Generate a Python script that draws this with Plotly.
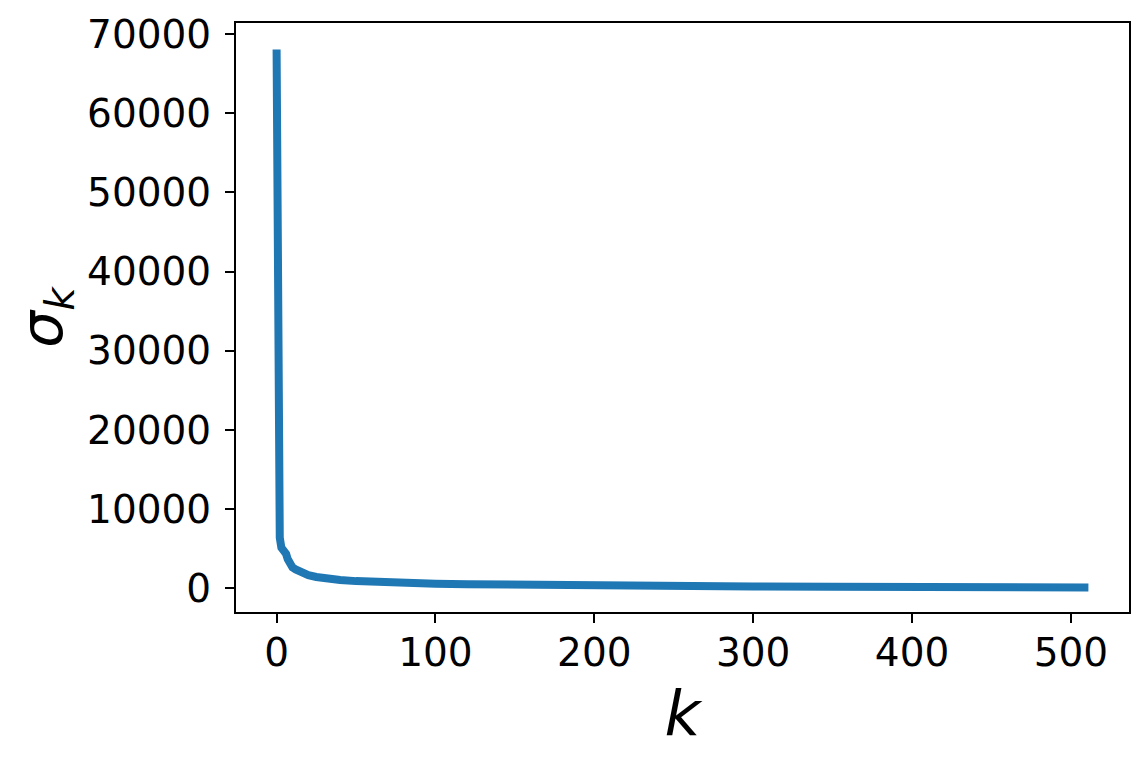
import plotly.graph_objects as go

# singular values sigma_k (k index and value)
k_index = [0, 1, 2, 3, 4, 5, 6, 7, 8, 9, 10, 12, 14, 16, 18, 20, 25, 30, 35, 40,
           50, 60, 70, 80, 100, 120, 150, 200, 250, 300, 350, 400, 450, 500, 511]
sigma_values = [68050, 8500, 6400, 5150, 4950, 4700, 4350, 3700, 3200, 2900, 2650,
                2400, 2150, 1950, 1800, 1680, 1440, 1280, 1150, 1060, 920, 820, 750,
                690, 600, 530, 450, 360, 300, 250, 210, 180, 155, 135, 125]

x_ticks = [0, 100, 200, 300, 400, 500]
y_ticks = [0, 10000, 20000, 30000, 40000, 50000, 60000, 70000]

x_range = [-25.55, 536.55]
y_range = [-2980, 71400]

FONT = "DejaVu Sans"

fig = go.Figure()
fig.add_trace(go.Scatter(
    x=k_index, y=sigma_values, mode="lines",
    line=dict(color="#1f77b4", width=8),
    showlegend=False,
))

axis_common = dict(
    showline=True, linecolor="black", linewidth=2, mirror=True,
    ticks="outside", ticklen=9, tickwidth=2, tickcolor="black",
    showgrid=False, zeroline=False,
    tickfont=dict(family=FONT, size=39, color="black"),
)

fig.update_xaxes(
    range=x_range, tickmode="array", tickvals=x_ticks,
    ticktext=[str(v) for v in x_ticks],
    ticklabelstandoff=-4,
    title=dict(text="<i>k</i>", font=dict(family=FONT, size=62, color="black"), standoff=18),
    **axis_common,
)
fig.update_yaxes(
    range=y_range, tickmode="array", tickvals=y_ticks,
    ticktext=[str(v) for v in y_ticks],
    ticklabelstandoff=6,
    title=dict(text="<i>σ</i><sub><i>k</i></sub>", font=dict(family=FONT, size=58, color="black"), standoff=20),
    **axis_common,
)

# the page body adds an 8px offset; margins compensate so the plot box matches
fig.update_layout(
    width=1148, height=767,
    margin=dict(l=228, r=27, t=15, b=163, pad=0, autoexpand=False),
    plot_bgcolor="white", paper_bgcolor="white",
    font=dict(family=FONT, color="black"),
)

fig.write_html("out.html")
